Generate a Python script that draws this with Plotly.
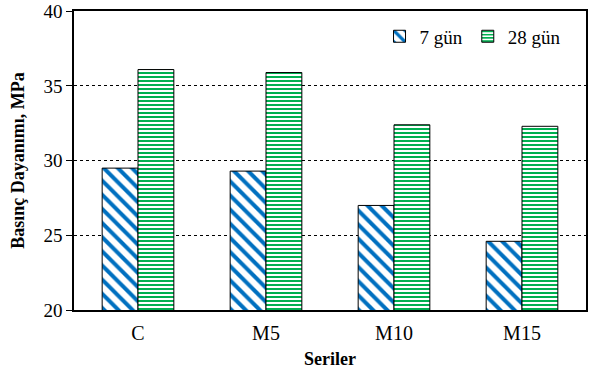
import plotly.graph_objects as go

categories = ["C", "M5", "M10", "M15"]
gun7 = [29.5, 29.3, 27.0, 24.6]
gun28 = [36.1, 35.9, 32.4, 32.3]
yticks = [20, 25, 30, 35, 40]

fig = go.Figure()
fig.add_trace(go.Bar(
    x=categories, y=gun7, name="7 gün",
    marker=dict(color="white", line=dict(color="black", width=1),
                pattern=dict(shape="\\", fgcolor="#0070C0", bgcolor="white",
                             fgopacity=1, size=10, solidity=0.4)),
))
fig.add_trace(go.Bar(
    x=categories, y=gun28, name="28 gün",
    marker=dict(color="white", line=dict(color="black", width=1),
                pattern=dict(shape="-", fgcolor="#00B050", bgcolor="white",
                             fgopacity=1, size=4, solidity=0.5)),
))

font = "Liberation Serif, Times New Roman, serif"
fig.update_layout(
    width=591, height=373,
    margin=dict(l=74, r=5, t=11, b=63),
    barmode="group", bargap=0.44, bargroupgap=0,
    plot_bgcolor="white", paper_bgcolor="white",
    font=dict(family=font, size=18, color="black"),
    showlegend=True,
    legend=dict(orientation="h", x=0.96, y=0.915, xanchor="right", yanchor="middle",
                font=dict(family=font, size=19), bgcolor="rgba(0,0,0,0)",
                itemwidth=30, traceorder="normal"),
    xaxis=dict(
        title=dict(text="<b>Seriler</b>", font=dict(family=font, size=18), standoff=10),
        showline=True, linecolor="black", linewidth=1.5, mirror=True,
        ticks="", tickfont=dict(family=font, size=20), automargin=False,
        ticklabelstandoff=4,
    ),
    yaxis=dict(
        title=dict(text="<b>Basınç Dayanımı, MPa</b>", font=dict(family=font, size=18), standoff=14),
        range=[20, 40.02], tickvals=yticks, ticktext=[str(v) for v in yticks],
        showline=True, linecolor="black", linewidth=1.5, mirror=True,
        ticks="outside", ticklen=6, tickcolor="black",
        showgrid=True, gridcolor="black", gridwidth=1, griddash="dot",
        tickfont=dict(family=font, size=19), automargin=False,
        ticklabeloverflow="allow",
        zeroline=False,
    ),
)
fig.write_html("out.html", config={"displayModeBar": False},
               post_script="document.body.style.margin='0';")
